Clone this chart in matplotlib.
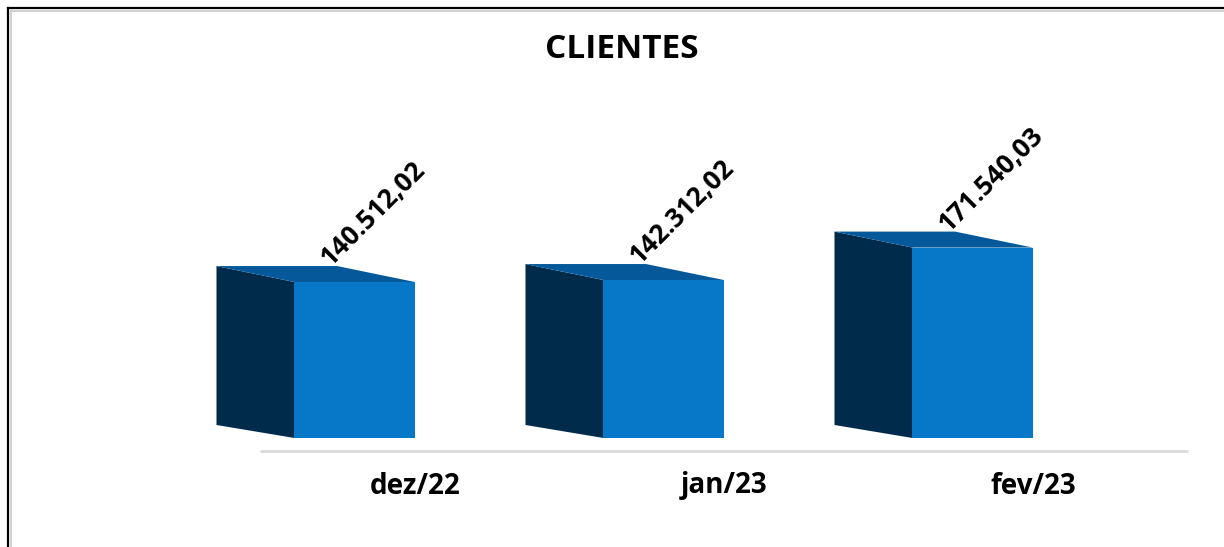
import matplotlib.pyplot as plt
from matplotlib.patches import Polygon
from matplotlib.lines import Line2D

# --- Data ---
categories = ['dez/22', 'jan/23', 'fev/23']
values = [140512.02, 142312.02, 171540.03]
value_labels = ['140.512,02', '142.312,02', '171.540,03']
title = 'CLIENTES'

# --- Style ---
FRONT = '#0777C8'
SIDE = '#012B4A'
TOP = '#05599A'
FONT = 'Open Sans'

W, H, DPI = 1224, 547, 100
fig = plt.figure(figsize=(W / DPI, H / DPI), dpi=DPI)
fig.patch.set_facecolor('white')

# axes covers the drawing area down to the bar baseline
base_px = 438
ax = fig.add_axes([0, (H - base_px) / H, 1, base_px / H])
ax.set_axis_off()

cat_px = 309          # pixels between categories
x0_px = 415           # pixel of first category tick
ax.set_xlim(-x0_px / cat_px, (W - x0_px) / cat_px)
px_per_unit = 0.00111
ax.set_ylim(0, base_px / px_per_unit)

# oblique depth of the 3D boxes
depth_dx = -78 / cat_px
depth_top = 16 / px_per_unit
depth_bot = 13 / px_per_unit
face_w = 0.39

for i, v in enumerate(values):
    xl, xr = i - face_w, i
    side = Polygon([(xl + depth_dx, depth_bot), (xl, 0), (xl, v),
                    (xl + depth_dx, v + depth_top)],
                   closed=True, facecolor=SIDE, edgecolor='none')
    top = Polygon([(xl, v), (xr, v), (xr + depth_dx, v + depth_top),
                   (xl + depth_dx, v + depth_top)],
                  closed=True, facecolor=TOP, edgecolor='none')
    ax.add_patch(side)
    ax.add_patch(top)
    ax.bar(xl, v, width=face_w, align='edge', color=FRONT, zorder=3)

    ax.annotate(value_labels[i], xy=(i - face_w / 2, v),
                xytext=(18 * 72 / DPI, 68 * 72 / DPI), textcoords='offset points',
                rotation=45, ha='center', va='center',
                fontsize=19, fontweight='bold', family=FONT, color='black')

    ax.annotate(categories[i], xy=(i, 0),
                xytext=(0, -48 * 72 / DPI), textcoords='offset points',
                ha='center', va='center', annotation_clip=False,
                fontsize=20, fontweight='bold', family=FONT, color='black')

# floor line of the category axis
ax.plot([-0.5, 2.5], [-13 / px_per_unit] * 2, color='#D9D9D9', lw=2,
        clip_on=False, solid_capstyle='butt')

fig.text(622 / W, 1 - 50 / H, title, ha='center', va='center',
         fontsize=24, fontweight='bold', family=FONT)

# outer frame (top and left edges)
fig.add_artist(Line2D([7.5 / W, 1], [1 - 7.5 / H] * 2, color='black', lw=1.6))
fig.add_artist(Line2D([7.5 / W] * 2, [0, 1 - 7.5 / H], color='black', lw=1.6))
fig.add_artist(Line2D([10.5 / W, 1], [1 - 10.5 / H] * 2, color='#D0D0D0', lw=1.4))
fig.add_artist(Line2D([10.5 / W] * 2, [0, 1 - 10.5 / H], color='#D0D0D0', lw=1.4))

fig.savefig('out.png', dpi=DPI, facecolor='white')
